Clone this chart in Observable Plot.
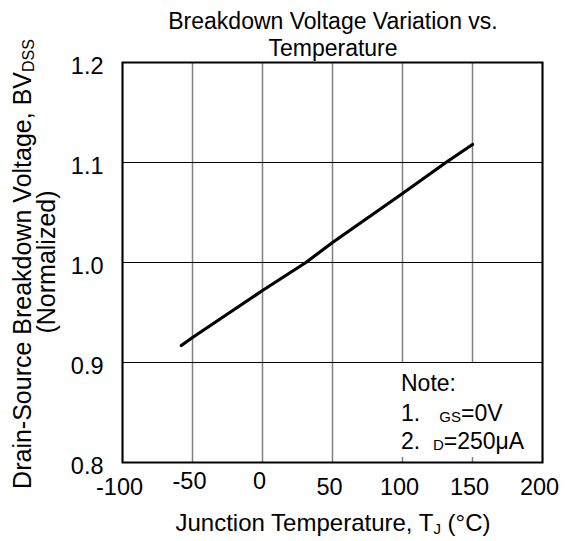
<!DOCTYPE html>
<html>
<head>
<meta charset="utf-8">
<script src="https://cdn.jsdelivr.net/npm/d3@7"></script>
<script src="https://cdn.jsdelivr.net/npm/@observablehq/plot@0.6"></script>
<style>
  html, body { margin: 0; padding: 0; background: white; }
  #chart { width: 565px; height: 541px; }
</style>
</head>
<body>
<div id="chart"></div>
<script>
// Data
const temperature = [-58, -50, 0, 31, 50, 100, 131, 150];
const bvdss = [0.917, 0.925, 0.972, 1.000, 1.020, 1.069, 1.100, 1.118];
const xTicks = [-100, -50, 0, 50, 100, 150, 200];
const yTicks = [0.8, 0.9, 1.0, 1.1, 1.2];
const raisedXTicks = [-50, 0];

const data = temperature.map((t, i) => ({t, v: bvdss[i]}));
const FONT = "Liberation Sans, Arial, Helvetica, sans-serif";
const TICK = 23.5;

const chart = Plot.plot({
  width: 565,
  height: 541,
  marginLeft: 122,
  marginRight: 23,
  marginTop: 62,
  marginBottom: 79,
  x: {domain: [-100, 200], axis: null},
  y: {domain: [0.8, 1.2], axis: null},
  style: {fontFamily: FONT, fontSize: TICK + "px", background: "white", color: "black"},
  marks: [
    Plot.gridX(xTicks, {stroke: "#808080", strokeOpacity: 1, strokeWidth: 1.5}),
    Plot.gridY(yTicks, {stroke: "#000", strokeOpacity: 1, strokeWidth: 1}),
    Plot.line(data, {x: "t", y: "v", stroke: "black", strokeWidth: 3.2}),
    Plot.frame({stroke: "black", strokeWidth: 2}),
    Plot.text(xTicks.filter(d => !raisedXTicks.includes(d)), {
      x: d => d, frameAnchor: "bottom", dx: -3, dy: 32, text: d => String(d), fill: "black", fontSize: TICK
    }),
    Plot.text(raisedXTicks, {
      x: d => d, frameAnchor: "bottom", dx: -3, dy: 26.5, text: d => String(d), fill: "black", fontSize: TICK
    }),
    Plot.text(yTicks, {
      y: d => d, frameAnchor: "left", textAnchor: "end", dx: -19, dy: 3.5,
      text: d => d.toFixed(1), fill: "black", fontSize: TICK
    })
  ]
});

document.getElementById("chart").appendChild(chart);

const svg = d3.select(chart);
const ann = svg.append("g").attr("font-family", FONT).attr("fill", "black").attr("text-anchor", "start");

// Title
ann.append("text").attr("x", 333).attr("y", 29).attr("text-anchor", "middle").attr("font-size", 23)
  .text("Breakdown Voltage Variation vs.");
ann.append("text").attr("x", 333).attr("y", 56).attr("text-anchor", "middle").attr("font-size", 23)
  .text("Temperature");

// X axis label
const xl = ann.append("text").attr("x", 333).attr("y", 531).attr("text-anchor", "middle").attr("font-size", 24);
xl.append("tspan").text("Junction Temperature, T");
xl.append("tspan").attr("font-size", 15).attr("dy", 3).text("J");
xl.append("tspan").attr("dy", -3).text(" (°C)");

// Y axis label (two lines, rotated)
const yl = ann.append("text").attr("transform", "translate(31,264) rotate(-90)")
  .attr("text-anchor", "middle").attr("font-size", 25);
yl.append("tspan").text("Drain-Source Breakdown Voltage, BV");
yl.append("tspan").attr("font-size", 16).attr("dy", 3).text("DSS");
ann.append("text").attr("transform", "translate(55,262) rotate(-90)")
  .attr("text-anchor", "middle").attr("font-size", 25).text("(Normalized)");

// Note box
ann.append("rect").attr("x", 385).attr("y", 363).attr("width", 155).attr("height", 94).attr("fill", "white");
ann.append("text").attr("x", 401).attr("y", 391).attr("font-size", 23).text("Note:");
const n1 = ann.append("text").attr("x", 401).attr("y", 421).attr("font-size", 23);
n1.append("tspan").text("1.   ");
n1.append("tspan").attr("font-size", 15).attr("dy", 1).text("GS");
n1.append("tspan").attr("dy", -1).text("=0V");
const n2 = ann.append("text").attr("x", 401).attr("y", 449).attr("font-size", 23);
n2.append("tspan").text("2.  ");
n2.append("tspan").attr("font-size", 15).attr("dy", 1).text("D");
n2.append("tspan").attr("dy", -1).text("=250μA");
</script>
</body>
</html>
